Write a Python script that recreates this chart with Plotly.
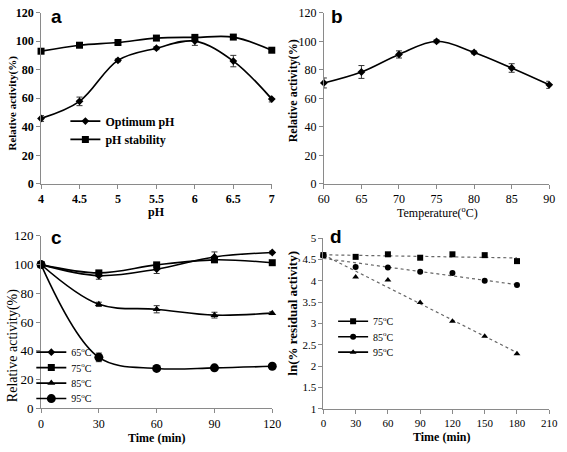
import numpy as np
import plotly.graph_objects as go

# ---------------- Data ----------------
# Panel a
ph = [4, 4.5, 5, 5.5, 6, 6.5, 7]
opt_ph = [45.8, 57.8, 86.5, 95.0, 100.0, 86.0, 59.4]
opt_ph_err = [2.0, 3.0, 1.0, 1.0, 3.0, 4.0, 2.0]
ph_stab = [92.9, 97.1, 99.0, 102.1, 102.6, 102.8, 93.6]

# Panel b
temp = [60, 65, 70, 75, 80, 85, 90]
temp_act = [70.8, 78.5, 90.8, 100.0, 92.2, 81.3, 69.5]
temp_err = [3.5, 4.5, 2.5, 1.0, 1.0, 3.0, 2.5]

# Panel c
time_c = [0, 30, 60, 90, 120]
c65 = [100, 92.3, 96.8, 105.3, 108.4]
c65_err = [0.5, 2.5, 3.0, 3.5, 1.0]
c75 = [100, 94.2, 99.8, 103.3, 101.3]
c75_err = [0.5, 1.0, 1.0, 1.5, 0.5]
c85 = [100, 72.3, 68.9, 64.8, 66.2]
c85_err = [0.5, 1.5, 2.5, 2.0, 1.0]
c95 = [100, 35.4, 27.7, 28.1, 29.2]
c95_err = [0.5, 3.0, 0.5, 0.5, 0.5]
c_labels = ["65<sup>o</sup>C", "75<sup>o</sup>C", "85<sup>o</sup>C", "95<sup>o</sup>C"]

# Panel d
time_d = [0, 30, 60, 90, 120, 150, 180]
d75 = [4.60, 4.56, 4.62, 4.54, 4.62, 4.60, 4.46]
d85 = [4.60, 4.32, 4.31, 4.21, 4.18, 4.00, 3.90]
d95 = [4.60, 4.09, 4.02, 3.49, 3.05, 2.70, 2.29]
d_labels = ["75<sup>o</sup>C", "85<sup>o</sup>C", "95<sup>o</sup>C"]

W, H = 567, 452
SERIF = "Liberation Serif"
SANS = "Liberation Sans"
AXC = "#8a8a8a"


def px(x):
    return x / W


def py(y):
    return 1 - y / H


fig = go.Figure()


def err(arr):
    return dict(type="data", array=arr, color="#333", thickness=1, width=3)


legends = {}


def add_legend(name, left, ymid, size, bold=False):
    legends[name] = dict(x=px(left), y=py(ymid), xanchor="left", yanchor="middle",
                         bgcolor="rgba(0,0,0,0)",
                         font=dict(family=SERIF, size=size, color="black",
                                   weight="bold" if bold else "normal"))


# ---- Panel a ----
fig.add_trace(go.Scatter(x=ph, y=opt_ph, error_y=err(opt_ph_err), mode="lines+markers",
                         line=dict(color="black", width=1.7, shape="spline"),
                         marker=dict(symbol="diamond", size=6, color="black"),
                         name="Optimum pH", xaxis="x", yaxis="y", legend="legend", cliponaxis=False))
add_legend("legend", 61, 118, 12, True)
fig.add_trace(go.Scatter(x=ph, y=ph_stab, mode="lines+markers",
                         line=dict(color="black", width=1.7, shape="spline"),
                         marker=dict(symbol="square", size=7, color="black"),
                         name="pH stability", xaxis="x", yaxis="y", legend="legend2", cliponaxis=False))
add_legend("legend2", 61, 137, 12, True)

# ---- Panel b ----
fig.add_trace(go.Scatter(x=temp, y=temp_act, error_y=err(temp_err), mode="lines+markers",
                         line=dict(color="black", width=1.6, shape="spline"),
                         marker=dict(symbol="diamond", size=6, color="black"),
                         showlegend=False, xaxis="x2", yaxis="y2", cliponaxis=False))

# ---- Panel c ----
c_series = [(c65, c65_err, "diamond", 6), (c75, c75_err, "square", 7),
            (c85, c85_err, "triangle-up", 7), (c95, c95_err, "circle", 9)]
c_leg_y = [357, 373, 389, 405]
for i, ((vals, e, sym, sz), lab) in enumerate(zip(c_series, c_labels)):
    lname = f"legend{3 + i}"
    fig.add_trace(go.Scatter(x=time_c, y=vals, error_y=err(e), mode="lines+markers",
                             line=dict(color="black", width=1.6, shape="spline"),
                             marker=dict(symbol=sym, size=sz, color="black"),
                             name=lab, xaxis="x3", yaxis="y3", legend=lname, cliponaxis=False))
    add_legend(lname, 26, c_leg_y[i], 10)

# ---- Panel d ----
d_series = [(d75, "square", 6), (d85, "circle", 6), (d95, "triangle-up", 6)]
d_leg_y = [325, 341, 357]
xfit = np.array([time_d[0], time_d[-1]])
for i, ((vals, sym, sz), lab) in enumerate(zip(d_series, d_labels)):
    lname = f"legend{7 + i}"
    k, b = np.polyfit(time_d, vals, 1)
    fig.add_trace(go.Scatter(x=xfit, y=k * xfit + b, mode="lines",
                             line=dict(color="#666", width=1.2, dash="dot"),
                             showlegend=False, xaxis="x4", yaxis="y4"))
    fig.add_trace(go.Scatter(x=time_d, y=vals, mode="markers",
                             marker=dict(symbol=sym, size=sz, color="black"),
                             showlegend=False, xaxis="x4", yaxis="y4", cliponaxis=False))
    fig.add_trace(go.Scatter(x=[None], y=[None], mode="lines+markers",
                             line=dict(color="black", width=1.6),
                             marker=dict(symbol=sym, size=sz, color="black"),
                             name=lab, xaxis="x4", yaxis="y4", legend=lname))
    add_legend(lname, 336, d_leg_y[i], 10)


def ax(domain, rng, dtick, anchor, size, bold=False):
    return dict(domain=domain, range=rng, dtick=dtick, tick0=rng[0], anchor=anchor,
                showline=True, linecolor=AXC, linewidth=1, ticks="outside", ticklen=4,
                tickcolor=AXC, showgrid=False, zeroline=False,
                tickfont=dict(family=SERIF, size=size, color="black",
                              weight="bold" if bold else "normal"))


fig.update_layout(
    width=W, height=H, margin=dict(l=0, r=0, t=0, b=0),
    paper_bgcolor="white", plot_bgcolor="white",
    font=dict(family=SERIF, color="black"),
    xaxis=ax([px(36), px(273)], [4, 7], 0.5, "y", 12, True),
    yaxis=ax([py(183), py(5.7)], [0, 120], 20, "x", 12, True),
    xaxis2=ax([px(326.5), px(558)], [60, 90], 5, "y2", 12),
    yaxis2=ax([py(183), py(6)], [0, 120], 20, "x2", 12),
    xaxis3=ax([px(36), px(273.5)], [0, 120], 30, "y3", 12),
    yaxis3=ax([py(415), py(236.7)], [0, 120], 20, "x3", 13),
    xaxis4=ax([px(326), px(558)], [0, 210], 30, "y4", 11),
    yaxis4=ax([py(415.7), py(239)], [1, 5], 0.5, "x4", 11),
    **legends,
)

ann = [
    ("a", 52, 10, 0, SANS, 19, True),
    ("b", 340, 10, 0, SANS, 19, True),
    ("c", 52, 238, 0, SANS, 19, True),
    ("d", 339, 237, 0, SANS, 19, True),
    ("pH", 155, 212, 0, SERIF, 12, True),
    ("Temperature(<sup>o</sup>C)", 443, 213, 0, SERIF, 12, False),
    ("Time (min)", 155, 446, 0, SERIF, 12, True),
    ("Time (min)", 447, 445, 0, SERIF, 12, True),
    ("Relative activity(%)", 7, 99, -90, SERIF, 11, True),
    ("Relative activity(%)", 295, 87, -90, SERIF, 12, True),
    ("Relative activity(%)", 8, 350, -90, SERIF, 14, False),
    ("ln(% residual activity)", 294, 317, -90, SERIF, 13, True),
]
for t, x, y, ang, fam, sz, bold in ann:
    fig.add_annotation(text=f"<b>{t}</b>" if bold else t, x=px(x), y=py(y), xref="paper", yref="paper",
                       showarrow=False, textangle=ang, xanchor="center", yanchor="middle",
                       font=dict(family=fam, size=sz, color="black"))

fig.write_html("out.html", config={"displayModeBar": False},
               post_script="document.body.style.margin='0';document.body.style.overflow='hidden';")
